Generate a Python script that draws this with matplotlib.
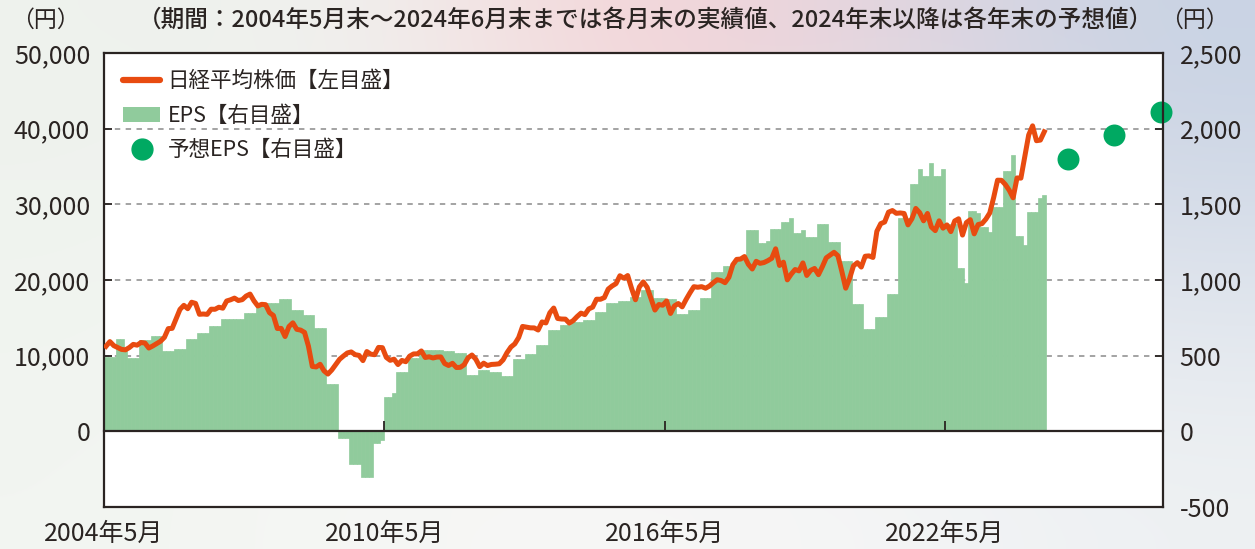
import numpy as np
import pandas as pd
import matplotlib
matplotlib.use("Agg")
import matplotlib.pyplot as plt
import matplotlib.ticker as mticker
import matplotlib.colors as mcolors
from matplotlib.lines import Line2D
from matplotlib.patches import Patch

plt.rcParams['font.family'] = ['Noto Sans CJK JP', 'DejaVu Sans']
plt.rcParams['axes.unicode_minus'] = False

# --- data ---
months = pd.period_range('2004-05', '2024-06', freq='M')

# Nikkei 225, month-end close (yen), 2004-05 .. 2024-06
nikkei = [
    11236, 11858, 11326, 11082, 10824, 10771, 11072, 11489,                        # 2004
    11388, 11740, 11668, 11009, 11277, 11584, 11900, 12414, 13574, 13607, 14872, 16111,  # 2005
    16650, 16205, 17059, 16906, 15467, 15505, 15457, 16141, 16128, 16399, 16274, 17226,  # 2006
    17383, 17604, 17288, 17400, 17876, 18138, 17249, 16569, 16786, 16738, 15681, 15308,  # 2007
    13592, 13603, 12526, 13850, 14339, 13481, 13377, 13073, 11260, 8577, 8512, 8860,     # 2008
    7994, 7568, 8110, 8828, 9523, 9958, 10357, 10493, 10133, 10035, 9346, 10546,         # 2009
    10198, 10126, 11090, 11057, 9769, 9383, 9537, 8824, 9369, 9202, 9937, 10229,         # 2010
    10238, 10624, 9755, 9850, 9694, 9816, 9833, 8955, 8700, 8988, 8435, 8455,            # 2011
    8803, 9723, 10084, 9521, 8543, 9007, 8695, 8840, 8870, 8928, 9446, 10395,            # 2012
    11139, 11559, 12398, 13861, 13775, 13677, 13668, 13389, 14456, 14328, 15662, 16291,  # 2013
    14915, 14841, 14828, 14304, 14632, 15162, 15621, 15425, 16174, 16414, 17460, 17451,  # 2014
    17674, 18798, 19207, 19520, 20563, 20236, 20585, 18890, 17388, 19083, 19747, 19034,  # 2015
    17518, 16027, 16759, 16666, 17235, 15576, 16569, 16887, 16450, 17425, 18308, 19114,  # 2016
    19041, 19119, 18909, 19197, 19651, 20033, 19925, 19646, 20356, 22012, 22725, 22765,  # 2017
    23098, 22068, 21454, 22468, 22202, 22305, 22554, 22865, 24120, 21920, 22351, 20015,  # 2018
    20773, 21385, 21206, 22259, 20601, 21276, 21522, 20704, 21756, 22927, 23294, 23657,  # 2019
    23205, 21143, 18917, 20194, 21878, 22288, 21710, 23140, 23185, 22977, 26434, 27444,  # 2020
    27663, 28966, 29179, 28813, 28860, 28792, 27284, 28090, 29453, 28893, 27822, 28792,  # 2021
    27002, 26527, 27821, 26848, 27280, 26393, 27802, 28092, 25937, 27587, 27969, 26095,  # 2022
    27327, 27446, 28041, 28856, 30888, 33189, 33172, 32619, 31858, 30859, 33487, 33464,  # 2023
    36287, 39166, 40369, 38406, 38488, 39583,                                            # 2024
]

# EPS (yen), 2004-05 .. 2024-06
eps = [
    491, 491, 491, 612, 612, 550, 482, 482,                                  # 2004
    482, 601, 601, 601, 630, 630, 630, 531, 531, 531, 546, 546,              # 2005
    546, 608, 608, 608, 652, 652, 652, 695, 695, 695, 740, 740,              # 2006
    740, 745, 745, 745, 780, 780, 780, 846, 846, 846, 846, 846,              # 2007
    846, 873, 873, 873, 802, 802, 802, 767, 767, 767, 684, 684,              # 2008
    684, 315, 315, 315, -45, -45, -45, -214, -214, -214, -302, -302,         # 2009
    -302, -77, -77, -60, 225, 225, 250, 392, 392, 392, 482, 482,             # 2010
    482, 540, 540, 540, 535, 535, 535, 528, 528, 528, 515, 515,              # 2011
    515, 370, 370, 370, 403, 403, 403, 392, 392, 392, 366, 366,              # 2012
    366, 480, 480, 480, 513, 513, 513, 568, 568, 568, 667, 667,              # 2013
    667, 705, 705, 705, 722, 722, 722, 738, 738, 738, 788, 788,              # 2014
    788, 848, 848, 848, 861, 861, 861, 887, 887, 887, 936, 936,              # 2015
    936, 881, 881, 881, 877, 877, 877, 778, 778, 778, 800, 800,              # 2016
    800, 883, 883, 883, 1053, 1053, 1053, 1090, 1090, 1090, 1141, 1141,      # 2017
    1141, 1328, 1328, 1328, 1244, 1244, 1260, 1339, 1339, 1339, 1383, 1383,  # 2018
    1412, 1310, 1310, 1330, 1284, 1284, 1284, 1368, 1368, 1368, 1251, 1251,  # 2019
    1251, 1123, 1123, 1123, 844, 844, 844, 679, 679, 679, 755, 755,          # 2020
    755, 905, 905, 905, 1410, 1410, 1410, 1634, 1634, 1733, 1690, 1690,      # 2021
    1771, 1687, 1687, 1736, 1370, 1370, 1370, 1077, 1077, 978, 1458, 1458,   # 2022
    1440, 1348, 1348, 1319, 1485, 1485, 1485, 1722, 1722, 1826, 1291, 1291,  # 2023
    1231, 1452, 1452, 1452, 1540, 1562,                                      # 2024
]

# forecast EPS at year-ends
fc_months = pd.PeriodIndex(['2024-12', '2025-12', '2026-12'], freq='M')
fc_eps = [1800, 1955, 2112]

tick_months = pd.PeriodIndex(['2004-05', '2010-05', '2016-05', '2022-05'], freq='M')
tick_labels = ['2004年5月', '2010年5月', '2016年5月', '2022年5月']
x_end = pd.Period('2027-01', freq='M')

title = '（期間：2004年5月末～2024年6月末までは各月末の実績値、2024年末以降は各年末の予想値）'


def mpos(p):
    """month offset from 2004-05 (start of that month)"""
    p = pd.PeriodIndex(p) if not isinstance(p, pd.Period) else p
    return (p.year - 2004) * 12 + (p.month - 5)


x = np.asarray(mpos(months)) + 0.5
fx = np.asarray(mpos(fc_months)) + 0.5

ORANGE = '#e84b10'
GREEN_BAR = '#90cb9c'
GREEN_DOT = '#00a962'
DARK = '#2a2422'

fig = plt.figure(figsize=(12.55, 5.49), dpi=100)

# faint decorative background
bg_cols = [
    ['#eef2ed', '#f0f1ef', '#f6d2d5', '#e4d6df', '#c8d3e4'],
    ['#f0f4ef', '#f4f5f3', '#f5e9ea', '#ebe8ee', '#dde3ec'],
    ['#f2f5f1', '#f6f7f5', '#f7f7f6', '#f5f6f6', '#eef1f3'],
]
bg_img = np.array([[mcolors.to_rgb(c) for c in row] for row in bg_cols])
bg = fig.add_axes([0, 0, 1, 1], zorder=-10)
bg.imshow(bg_img, aspect='auto', interpolation='bicubic', extent=[0, 1, 0, 1])
bg.axis('off')

ax = fig.add_axes([0.0829, 0.0765, 0.8438, 0.827])
ax2 = ax.twinx()
ax2.set_zorder(1)
ax.set_zorder(2)
ax.patch.set_visible(False)
ax2.patch.set_visible(True)
ax2.patch.set_facecolor('white')

# EPS bars (right axis)
ax2.bar(x, eps, width=1.0, color=GREEN_BAR, edgecolor=GREEN_BAR, linewidth=0.5)
ax2.scatter(fx, fc_eps, s=250, color=GREEN_DOT, zorder=5, clip_on=False, linewidths=0)
ax2.set_ylim(-500, 2500)
ax2.set_yticks(np.arange(-500, 2501, 500))
ax2.yaxis.set_major_formatter(mticker.FuncFormatter(lambda v, p: f'{v:,.0f}'))
ax2.yaxis.grid(True, linestyle=(0, (3, 3)), color='#9c9c9c', linewidth=1.3)
ax2.set_axisbelow(True)
for s in ax2.spines.values():
    s.set_visible(False)
ax2.tick_params(axis='y', direction='in', length=6, width=1.3, color=DARK,
                labelsize=18, labelcolor=DARK, pad=12)

# Nikkei line (left axis)
ax.plot(x, nikkei, color=ORANGE, linewidth=3.6, solid_joinstyle='round', zorder=3)
ax.set_ylim(-10000, 50000)
ax.set_yticks(np.arange(0, 50001, 10000))
ax.yaxis.set_major_formatter(mticker.FuncFormatter(lambda v, p: f'{v:,.0f}'))
ax.tick_params(axis='y', direction='in', length=6, width=1.3, color=DARK,
               labelsize=18, labelcolor=DARK, pad=10)
ax.set_xlim(0, mpos(x_end))
ax.set_xticks(np.asarray(mpos(tick_months)), labels=tick_labels)
ax.tick_params(axis='x', length=0, labelsize=18, labelcolor=DARK, pad=10)
for s in ax.spines.values():
    s.set_linewidth(1.6)
    s.set_color(DARK)

# zero line with small upward ticks
ylo, yhi = ax.get_ylim()
zero = ax.secondary_xaxis(-ylo / (yhi - ylo))
zero.set_xticks(np.asarray(mpos(tick_months)), labels=[])
zero.tick_params(axis='x', direction='in', length=7, width=1.3, color=DARK)
zero.spines['bottom'].set_linewidth(1.6)
zero.spines['bottom'].set_color(DARK)

handles = [
    Line2D([], [], color=ORANGE, linewidth=4.5, solid_capstyle='round'),
    Patch(facecolor=GREEN_BAR, edgecolor='none'),
    Line2D([], [], linestyle='none', marker='o', markersize=15, color=GREEN_DOT),
]
labels = ['日経平均株価【左目盛】', 'EPS【右目盛】', '予想EPS【右目盛】']
leg = ax.legend(handles, labels, loc='upper left', bbox_to_anchor=(0.0, 1.005),
                frameon=False, fontsize=15.5, handlelength=1.7, handletextpad=0.35,
                labelspacing=0.58, borderaxespad=0.5)
for t in leg.get_texts():
    t.set_color(DARK)

fig.text(0.036, 0.963, '（円）', fontsize=16.5, color=DARK, ha='center', va='center')
fig.text(0.514, 0.963, title, fontsize=17, color=DARK, ha='center', va='center',
         fontweight='medium')
fig.text(0.952, 0.963, '（円）', fontsize=16.5, color=DARK, ha='center', va='center')

fig.savefig('out.png', dpi=100)
